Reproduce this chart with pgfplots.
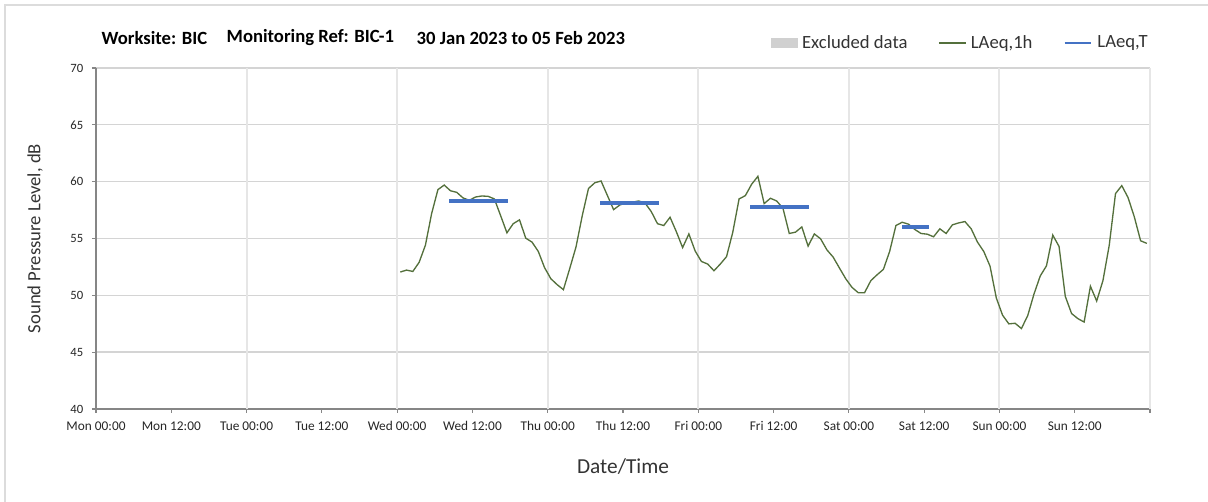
\documentclass[border=0pt]{standalone}
\usepackage{fontspec}
\setmainfont{Carlito}
\usepackage{pgfplots}
\usepackage{pgfplotstable}
\pgfplotsset{compat=1.18}
\definecolor{laeqgreen}{RGB}{84,112,60}
\definecolor{laeqblue}{RGB}{68,114,196}
\definecolor{gridgray}{RGB}{212,212,212}
\definecolor{vgridgray}{RGB}{230,230,230}
\definecolor{axisgray}{RGB}{134,134,134}
\definecolor{exclgray}{RGB}{208,208,208}
\definecolor{framegray}{RGB}{220,220,220}

\pgfplotsset{
  lineleg/.style={legend image code/.code={\draw[##1] (0pt,0pt) -- (20pt,0pt);}},
  blueleg/.style={legend image code/.code={\draw[##1, line width=2.2pt] (0pt,0pt) -- (20pt,0pt);}},
  arealeg/.style={legend image code/.code={\fill[exclgray] (0pt,-3.5pt) rectangle (19.5pt,3.5pt);}},
}

% hourly LAeq,1h (hours from Mon 00:00)
\pgfplotstableread{
h laeq
48.5 52.05
49.5 52.22
50.5 52.10
51.5 52.90
52.5 54.40
53.5 57.20
54.5 59.30
55.5 59.70
56.5 59.20
57.5 59.06
58.5 58.57
59.5 58.36
60.5 58.65
61.5 58.74
62.5 58.71
63.5 58.48
64.5 57.00
65.5 55.50
66.5 56.30
67.5 56.64
68.5 55.03
69.5 54.68
70.5 53.86
71.5 52.43
72.5 51.46
73.5 50.94
74.5 50.50
75.5 52.34
76.5 54.24
77.5 57.00
78.5 59.40
79.5 59.90
80.5 60.06
81.5 58.80
82.5 57.54
83.5 57.95
84.5 58.13
85.5 58.19
86.5 58.30
87.5 58.13
88.5 57.37
89.5 56.30
90.5 56.14
91.5 56.87
92.5 55.60
93.5 54.20
94.5 55.40
95.5 53.90
96.5 52.98
97.5 52.75
98.5 52.16
99.5 52.75
100.5 53.40
101.5 55.56
102.5 58.48
103.5 58.77
104.5 59.77
105.5 60.47
106.5 58.07
107.5 58.54
108.5 58.30
109.5 57.65
110.5 55.44
111.5 55.56
112.5 56.02
113.5 54.33
114.5 55.40
115.5 54.97
116.5 54.00
117.5 53.36
118.5 52.40
119.5 51.46
120.5 50.70
121.5 50.23
122.5 50.23
123.5 51.29
124.5 51.81
125.5 52.28
126.5 53.86
127.5 56.14
128.5 56.43
129.5 56.26
130.5 55.80
131.5 55.44
132.5 55.38
133.5 55.15
134.5 55.85
135.5 55.44
136.5 56.20
137.5 56.37
138.5 56.49
139.5 55.85
140.5 54.68
141.5 53.86
142.5 52.57
143.5 49.77
144.5 48.25
145.5 47.49
146.5 47.54
147.5 47.08
148.5 48.20
149.5 50.10
150.5 51.70
151.5 52.60
152.5 55.30
153.5 54.30
154.5 49.90
155.5 48.40
156.5 47.95
157.5 47.65
158.5 50.80
159.5 49.50
160.5 51.30
161.5 54.40
162.5 58.95
163.5 59.65
164.5 58.60
165.5 56.90
166.5 54.80
167.5 54.57
}\hourly

% LAeq,T periods
\pgfplotstableread{
h laeq
56.3 58.30
65.6 58.30
nan nan
80.4 58.13
89.7 58.13
nan nan
104.3 57.78
113.6 57.78
nan nan
128.5 55.97
132.7 55.97
}\periods

\begin{document}
\begin{tikzpicture}
\begin{axis}[
  name=ax,
  scale only axis,
  width=790.5pt, height=255.75pt,
  xmin=0, xmax=168, ymin=40, ymax=70,
  axis x line*=bottom, axis y line*=left,
  axis line style={axisgray, line width=0.8pt, -},
  xtick={0,12,...,168},
  xticklabels={Mon 00:00, Mon 12:00, Tue 00:00, Tue 12:00, Wed 00:00, Wed 12:00,
    Thu 00:00, Thu 12:00, Fri 00:00, Fri 12:00, Sat 00:00, Sat 12:00,
    Sun 00:00, Sun 12:00, {}},
  ytick={40,45,...,70},
  tick align=outside, major tick length=3pt,
  tick style={axisgray, line width=0.8pt},
  ymajorgrids, major grid style={gridgray, line width=1pt},
  extra x ticks={24,48,...,168}, extra x tick labels={},
  extra x tick style={grid=major, major grid style={vgridgray, line width=1.5pt}},
  x tick label style={font=\fontsize{10}{12}\selectfont, text=black!85, yshift=-3pt},
  y tick label style={font=\fontsize{9.5}{11}\selectfont, text=black!85, xshift=-3pt,
    /pgf/number format/assume math mode=true},
  xlabel={Date/Time},
  xlabel style={font=\fontsize{16}{19}\selectfont, text=black!80,
    at={(axis description cs:0.5,-0.1701)}, anchor=center},
  ylabel={Sound Pressure Level, dB},
  ylabel style={font=\fontsize{14}{17}\selectfont, text=black!80,
    at={(axis description cs:-0.0579,0.5)}, anchor=center},
  legend columns=3,
  legend style={at={(axis description cs:1,1)}, anchor=east,
    xshift=2.5pt, yshift=18.75pt, draw=none, fill=none,
    font=\fontsize{14}{17}\selectfont, text=black!80,
    /tikz/every odd column/.append style={column sep=2.5pt},
    /tikz/every even column/.append style={column sep=22pt},
    nodes={inner sep=1pt}},
]
\addlegendimage{arealeg}
\addlegendentry{Excluded data}

\addplot[laeqgreen, line width=1pt, lineleg]
  table[x=h, y=laeq] {\hourly};
\addlegendentry{LAeq,1h}

\addplot[laeqblue, line width=3pt, unbounded coords=jump, blueleg]
  table[x=h, y=laeq] {\periods};
\addlegendentry{LAeq,T}
\end{axis}

\node[anchor=west, font=\bfseries\fontsize{14}{17}\selectfont]
  at ([shift={(0.75pt,22.5pt)}]ax.north west) {Worksite: BIC};
\node[anchor=west, font=\bfseries\fontsize{14}{17}\selectfont]
  at ([shift={(94.5pt,22.5pt)}]ax.north west) {Monitoring Ref: BIC-1};
\node[anchor=west, font=\bfseries\fontsize{14}{17}\selectfont]
  at ([shift={(237pt,22.5pt)}]ax.north west) {30 Jan 2023 to 05 Feb 2023};

\draw[framegray, line width=1pt]
  ([shift={(-68.25pt,-69.75pt)}]ax.south west) --
  ([shift={(-68.25pt,47.25pt)}]ax.north west) --
  ([shift={(43.5pt,47.25pt)}]ax.north east);

\pgfresetboundingbox
\path ([shift={(-72pt,-69.75pt)}]ax.south west) rectangle ([shift={(43.5pt,51pt)}]ax.north east);
\end{tikzpicture}
\end{document}
